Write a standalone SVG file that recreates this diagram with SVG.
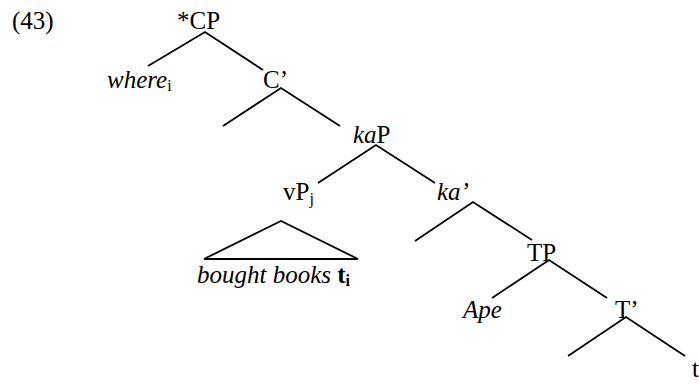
<svg xmlns="http://www.w3.org/2000/svg" width="699" height="385" viewBox="0 0 699 385">
<style>
text{font-family:"Liberation Serif","Times New Roman",serif;font-size:25px;fill:#000}
.it{font-style:italic}
.sub{font-size:16px}
.b{font-weight:bold}
.e{stroke:#000;stroke-width:1.8;fill:none}
</style>
<rect width="699" height="385" fill="#fff"/>
<g id="label"><text x="12" y="29">(43)</text></g>
<g id="connectors">
<path class="e" d="M148,66 L205,32 L263,70"/>
<path class="e" d="M223,126 L281,88 L340,126"/>
<path class="e" d="M318,183 L376,145 L435,183"/>
<path class="e" d="M415,241 L473,202 L532,240"/>
<path class="e" d="M492,298 L549,260 L607,298"/>
<path class="e" d="M568,356 L626,317 L685,356"/>
</g>
<g id="CP"><text x="177" y="29">*CP</text></g>
<g id="where"><text x="107" y="88" class="it">where<tspan class="sub" font-style="normal" dy="3">i</tspan></text></g>
<g id="Cbar"><text x="263" y="88">C’</text></g>
<g id="kaP"><text x="353" y="143"><tspan class="it">ka</tspan>P</text></g>
<g id="vP"><text x="283" y="200">vP<tspan class="sub" dy="4">j</tspan></text></g>
<g id="kabar"><text x="437" y="200" class="it">ka’</text></g>
<g id="triangle"><path class="e" d="M204,259 L281,221 L358,259 Z"/></g>
<g id="bought"><text x="197" y="283"><tspan class="it">bought books </tspan><tspan class="b">t</tspan><tspan class="b sub" dy="3">i</tspan></text></g>
<g id="TP"><text x="527" y="261">TP</text></g>
<g id="Ape"><text x="463" y="318" class="it">Ape</text></g>
<g id="Tbar"><text x="615" y="318">T’</text></g>
<g id="t"><text x="692" y="377">t</text></g>
</svg>
